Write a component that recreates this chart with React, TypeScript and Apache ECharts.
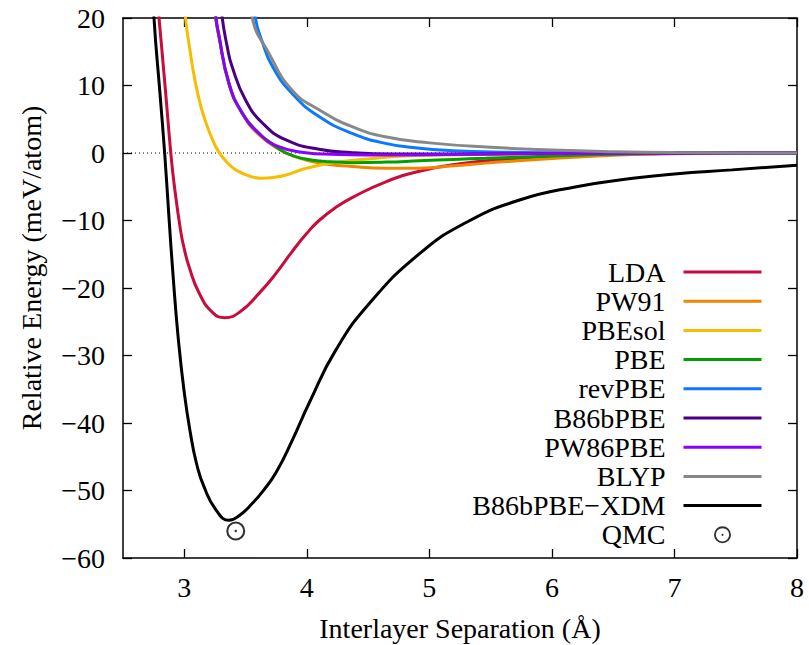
import React, { useEffect, useRef } from 'react';
import * as echarts from 'echarts';

const FONT = 'Liberation Serif, Times New Roman, serif';

const seriesNames = ['LDA', 'PW91', 'PBEsol', 'PBE', 'revPBE', 'B86bPBE', 'PW86PBE', 'BLYP', 'B86bPBE\u2212XDM'];
const seriesColors = ['#c80c3c', '#f28500', '#f5be00', '#00a000', '#0a78ff', '#4b0082', '#8b00ff', '#888888', '#000000'];

const lda = [[2.76, 27], [2.794, 20], [2.843, 10], [2.89, 0], [2.916, -4.4], [2.97, -11.5], [3.0, -14.2], [3.04, -16.9], [3.12, -20.7], [3.23, -23.6], [3.33, -24.4], [3.45, -23.6], [3.61, -20.8], [3.75, -17.8], [3.88, -14.6], [4.0, -11.9], [4.1, -10.0], [4.25, -7.9], [4.37, -6.6], [4.64, -4.3], [4.92, -2.7], [5.25, -1.6], [5.6, -0.95], [6.0, -0.5], [6.5, -0.22], [7.0, -0.08], [7.5, -0.02], [8.0, 0]];
const pw91 = [[3.23, 26], [3.257, 20], [3.28, 17.5], [3.365, 10.2], [3.474, 5.8], [3.61, 2.7], [3.77, 0.6], [3.9, -0.5], [4.1, -1.5], [4.37, -2.0], [4.65, -2.25], [4.92, -2.25], [5.2, -1.9], [5.46, -1.5], [6.0, -0.8], [6.55, -0.3], [7.0, -0.1], [7.5, -0.03], [8.0, 0]];
const pbesol = [[2.985, 26], [3.01, 20], [3.05, 14.8], [3.09, 10.5], [3.134, 7.0], [3.175, 4.6], [3.23, 2.0], [3.28, 0.2], [3.35, -1.4], [3.42, -2.5], [3.53, -3.4], [3.64, -3.75], [3.74, -3.6], [3.83, -3.25], [3.99, -2.3], [4.21, -1.45], [4.5, -0.9], [4.75, -0.5], [5.0, -0.35], [5.5, -0.2], [6.0, -0.12], [6.5, -0.06], [7.0, -0.03], [8.0, 0]];
const pbe = [[3.23, 26], [3.257, 20], [3.28, 17.6], [3.365, 10.3], [3.474, 5.9], [3.61, 2.9], [3.7, 1.6], [3.83, 0.0], [3.99, -0.9], [4.15, -1.25], [4.37, -1.43], [4.65, -1.35], [4.92, -1.15], [5.2, -0.95], [5.46, -0.79], [6.0, -0.45], [6.5, -0.2], [7.0, -0.07], [7.5, -0.02], [8.0, 0]];
const revpbe = [[3.55, 26], [3.58, 20], [3.64, 16.3], [3.72, 12.8], [3.88, 8.8], [4.1, 5.4], [4.37, 2.9], [4.64, 1.43], [4.92, 0.69], [5.19, 0.35], [5.6, 0.12], [6.0, 0.04], [7.0, 0], [8.0, 0]];
const b86bpbe = [[3.28, 26], [3.31, 20], [3.35, 15.8], [3.39, 12.8], [3.5, 7.85], [3.64, 4.4], [3.83, 1.93], [4.1, 0.55], [4.37, 0.05], [4.7, -0.15], [5.2, -0.15], [6.0, -0.05], [7.0, 0], [8.0, 0]];
const pw86pbe = [[3.235, 26], [3.26, 20], [3.28, 17.7], [3.365, 10.3], [3.474, 5.9], [3.61, 2.9], [3.77, 0.93], [3.99, 0.05], [4.2, -0.2], [4.5, -0.3], [5.0, -0.25], [5.5, -0.15], [6.0, -0.08], [7.0, -0.02], [8.0, 0]];
const blyp = [[3.52, 26], [3.555, 20], [3.69, 14.8], [3.88, 9.3], [4.1, 6.4], [4.37, 3.9], [4.64, 2.4], [5.0, 1.5], [5.5, 0.85], [6.0, 0.45], [6.5, 0.2], [7.0, 0.06], [7.5, 0.01], [8.0, 0]];
const xdm = [[2.74, 27], [2.753, 20], [2.8, 9.2], [2.84, 0], [2.875, -9.5], [2.91, -18.5], [2.95, -27.3], [3.0, -35.5], [3.05, -41.5], [3.1, -46.0], [3.16, -49.4], [3.26, -52.9], [3.365, -54.4], [3.45, -53.7], [3.556, -51.9], [3.65, -49.9], [3.75, -47.3], [3.88, -42.6], [4.02, -37.0], [4.236, -29.2], [4.51, -22.3], [4.92, -14.9], [5.3, -10.3], [5.73, -7.0], [6.2, -5.0], [6.66, -3.75], [7.0, -3.1], [7.47, -2.5], [8.0, -1.8]];
const qmc = [[3.42, -56.0]];
const zeroLine = [[2.5, 0], [8, 0]];

const curves = [lda, pw91, pbesol, pbe, revpbe, b86bpbe, pw86pbe, blyp, xdm];
const xTicks = [3, 4, 5, 6, 7, 8];
const xMin = 2.5, xMax = 8, yMin = -60, yMax = 20, yStep = 10;

const QMC_SYMBOL = 'path://M0 10A10 10 0 1 1 20 10A10 10 0 1 1 0 10ZM2.2 10A7.8 7.8 0 1 0 17.8 10A7.8 7.8 0 1 0 2.2 10ZM8.7 10A1.3 1.3 0 1 1 11.3 10A1.3 1.3 0 1 1 8.7 10Z';

const fmtY = (v: number) => (v < 0 ? '\u2212' + Math.abs(v) : String(v));

export default function App() {
  const ref = useRef<HTMLDivElement>(null);
  useEffect(() => {
    if (!ref.current) return;
    const chart = echarts.init(ref.current, null, { renderer: 'svg' });
    const axisLine = { show: true, onZero: false, lineStyle: { color: '#000', width: 1.5 } };
    const tick = (vals?: number[]) => ({ show: true, inside: true, length: 9, lineStyle: { color: '#000', width: 1.3 }, ...(vals ? { customValues: vals } : {}) });
    const labelStyle = { fontFamily: FONT, fontSize: 28, color: '#000' };
    const option: any = {
      animation: false,
      backgroundColor: '#fff',
      grid: { left: 123, right: 12, top: 18, bottom: 87, containLabel: false, outerBoundsMode: 'none' },
      xAxis: [
        { type: 'value', min: xMin, max: xMax, position: 'bottom', axisLine, axisTick: tick(xTicks), axisLabel: { ...labelStyle, margin: 15, customValues: xTicks }, splitLine: { show: false },
          name: 'Interlayer Separation (\u00c5)', nameLocation: 'middle', nameGap: 56, nameTextStyle: { ...labelStyle, fontSize: 28 } },
        { type: 'value', min: xMin, max: xMax, position: 'top', axisLine, axisTick: tick(xTicks), axisLabel: { show: false, customValues: xTicks }, splitLine: { show: false } },
      ],
      yAxis: [
        { type: 'value', min: yMin, max: yMax, interval: yStep, position: 'left', axisLine, axisTick: tick(), axisLabel: { ...labelStyle, margin: 18, formatter: fmtY }, splitLine: { show: false } },
        { type: 'value', min: yMin, max: yMax, interval: yStep, position: 'right', axisLine, axisTick: tick(), axisLabel: { show: false }, splitLine: { show: false } },
      ],
      legend: {
        orient: 'vertical', align: 'right', right: 46, top: 258, padding: 0,
        itemWidth: 78, itemHeight: 17, itemGap: 1.2, selectedMode: false,
        data: [...seriesNames.map((n) => ({ name: n, itemStyle: { opacity: 0 } })), { name: 'QMC' }],
        textStyle: { fontFamily: FONT, fontSize: 28, color: '#000', lineHeight: 28, padding: [0, 13, 0, 0] },
        lineStyle: { width: 3 },
      },
      graphic: [
        { type: 'text', x: 31, y: 268, rotation: Math.PI / 2, style: { text: 'Relative Energy (meV/atom)', font: '28px ' + FONT, fill: '#000', align: 'center', verticalAlign: 'middle' } },
      ],
      series: [
        { name: 'zero', type: 'line', data: zeroLine, symbol: 'none', silent: true, lineStyle: { color: '#000', width: 1, type: [1, 3] } },
        ...curves.map((d, i) => ({
          name: seriesNames[i], type: 'line', data: d, symbol: 'none', smooth: 0.5, clip: true,
          color: seriesColors[i], lineStyle: { color: seriesColors[i], width: 3 },
        })),
        { name: 'QMC', type: 'scatter', data: qmc, symbol: QMC_SYMBOL, symbolSize: 19, symbolKeepAspect: true, color: '#000', itemStyle: { color: '#000' } },
      ],
    };
    chart.setOption(option);
    return () => chart.dispose();
  }, []);
  return <div ref={ref} style={{ position: 'fixed', left: 0, top: 0, width: 809, height: 645, background: '#fff' }} />;
}
